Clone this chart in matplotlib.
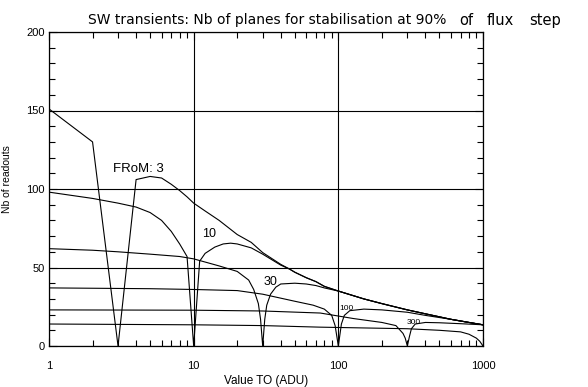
import numpy as np
import matplotlib
matplotlib.use("Agg")
import matplotlib.pyplot as plt
from matplotlib.ticker import FixedLocator, NullFormatter

# ---- data ----
env_t = [50, 60, 70, 80, 100, 150, 200, 300, 400, 600, 800, 1000]
env_v = [47, 43.5, 41, 38, 35, 30, 27, 23, 20.5, 17, 15, 13.5]

from3_t = [1, 2, 3, 4, 5, 6, 7, 8, 9, 10, 12, 15, 20, 25, 30, 40, 46] + env_t
from3_v = [151, 130, 0, 106, 108, 107, 103, 99, 95, 91, 86, 80, 71, 66, 59.5, 52, 49] + env_v

from10_t = [1, 2, 3, 4, 5, 6, 7, 8, 9, 10, 11, 12, 14, 16, 18, 20, 25, 30, 40, 46] + env_t
from10_v = [98, 94, 91, 88.5, 85, 80, 73, 65, 57, 0, 54, 59, 63, 65, 65.5, 65, 62.5, 58.5, 51.5, 49] + env_v

from30_t = [1, 2, 3, 5, 8, 10, 15, 20, 24, 26, 28, 29, 30, 31, 32, 34, 37, 40, 50, 60, 70, 80,
            100, 150, 200, 300, 400, 600, 800, 1000]
from30_v = [62, 61, 60, 58.5, 57, 55.5, 51, 47.5, 42, 36, 27, 17, 0, 17, 26, 33, 37.5, 39.5, 40, 39.5,
            38.5, 37, 35, 30, 27, 23, 20.5, 17, 15, 13.5]

from100_t = [1, 5, 10, 20, 30, 50, 67, 80, 90, 95, 100, 105, 110, 120, 150, 200, 300, 400, 600, 800, 1000]
from100_v = [37, 36.5, 36, 35.3, 33, 28.5, 26, 23.5, 19.5, 13, 0, 14, 19.5, 22.5, 23.5, 23, 21.5, 19.5, 17, 15, 13.5]

from300_t = [1, 10, 30, 75, 127, 200, 250, 280, 290, 300, 310, 320, 340, 400, 500, 700, 1000]
from300_v = [23, 22.8, 22.3, 21, 17.5, 15, 13, 8, 5, 0, 6, 11, 14, 15, 14.8, 14.2, 13.5]

from1000_t = [1, 10, 30, 75, 150, 300, 500, 700, 800, 900, 950, 1000]
from1000_v = [14, 13.5, 13, 12, 11.5, 11, 10, 9, 7.5, 5, 3, 0]

series = [(from3_t, from3_v), (from10_t, from10_v), (from30_t, from30_v),
          (from100_t, from100_v), (from300_t, from300_v), (from1000_t, from1000_v)]

labels = ["FRoM: 3", "10", "30", "100", "300"]
label_pos = [(2.77, 113), (12.8, 71.3), (34.1, 40.8), (114.5, 23.9), (333, 15)]
label_size = [9.5, 9, 9, 6, 6]

x_ticks = [1, 10, 100, 1000]
x_ticklabels = ["1", "10", "100", "1000"]
y_ticks = [0, 50, 100, 150, 200]

# ---- figure ----
W, H = 588, 387
fig = plt.figure(figsize=(W / 100, H / 100), dpi=100)
L, R, T, B = 49, 483, 32, 346
ax = fig.add_axes([L / W, 1 - B / H, (R - L) / W, (B - T) / H])

for t, v in series:
    ax.plot(t, v, color="black", lw=0.8)

ax.set_xscale("log")
ax.set_xlim(1, 1000)
ax.set_ylim(0, 200)

ax.xaxis.set_major_locator(FixedLocator(x_ticks))
ax.set_xticklabels(x_ticklabels)
ax.xaxis.set_minor_locator(FixedLocator([m * d for d in (1, 10, 100) for m in range(2, 10)]))
ax.xaxis.set_minor_formatter(NullFormatter())
ax.yaxis.set_major_locator(FixedLocator(y_ticks))
ax.yaxis.set_minor_locator(FixedLocator(list(range(0, 201, 10))))

ax.tick_params(which="both", direction="in", top=True, right=True, color="black", width=0.8)
ax.tick_params(which="major", length=6, labelsize=8)
ax.tick_params(which="minor", length=4)
ax.tick_params(axis="x", which="major", pad=10.5)
ax.tick_params(axis="y", which="major", pad=3)
for lab in ax.get_xticklabels() + ax.get_yticklabels():
    lab.set_family("Liberation Sans")

ax.grid(True, which="major", color="black", lw=0.8)
for s in ax.spines.values():
    s.set_linewidth(0.9)

ax.set_xlabel("Value TO (ADU)", fontsize=8.5, family="Liberation Sans")
ax.xaxis.set_label_coords(0.5, (B - 375) / (B - T))
ax.set_ylabel("Nb of readouts", fontsize=7.5, family="Liberation Sans")
ax.yaxis.set_label_coords((12.5 - L) / (R - L), (B - 179) / (B - T))

for txt, (x, y), fs in zip(labels, label_pos, label_size):
    ha = "left" if txt.startswith("FR") else "center"
    ax.text(x, y, txt, fontsize=fs, ha=ha, va="center", color="black",
            family="Liberation Sans")

fig.text(88 / W, 1 - 24 / H, "SW transients: Nb of planes for stabilisation at 90%",
         fontsize=10, ha="left", va="baseline")
for word, xp in [("of", 459), ("flux", 487), ("step", 529)]:
    fig.text(xp / W, 1 - 25 / H, word, fontsize=10.5, ha="left", va="baseline")

fig.savefig("out.png", dpi=100, facecolor="white")
